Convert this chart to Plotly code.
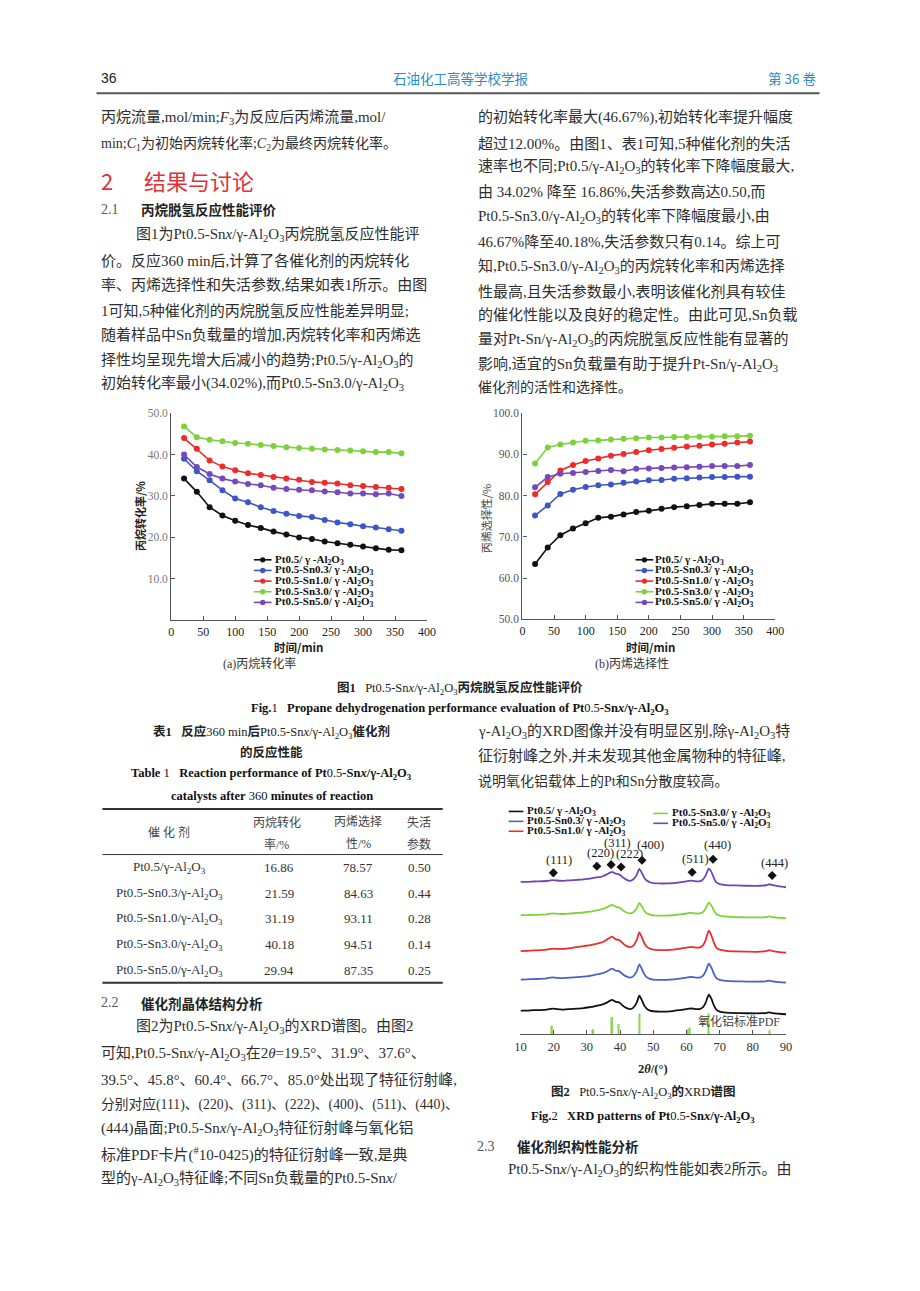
import re
import plotly.graph_objects as go

# ---------------- data ----------------
time_min = [20, 40, 60, 80, 100, 120, 140, 160, 180, 200, 220, 240, 260, 280, 300, 320, 340, 360]

series_names = [
    "Pt0.5/ γ -Al<sub>2</sub>O<sub>3</sub>",
    "Pt0.5-Sn0.3/ γ -Al<sub>2</sub>O<sub>3</sub>",
    "Pt0.5-Sn1.0/ γ -Al<sub>2</sub>O<sub>3</sub>",
    "Pt0.5-Sn3.0/ γ -Al<sub>2</sub>O<sub>3</sub>",
    "Pt0.5-Sn5.0/ γ -Al<sub>2</sub>O<sub>3</sub>",
]

# propane conversion / %
conv_pt05 = [34.2, 31.0, 27.3, 25.3, 24.0, 23.0, 22.3, 21.4, 20.7, 20.0, 19.6, 19.0, 18.6, 18.2, 17.8, 17.4, 17.0, 16.9]
conv_sn03 = [39.0, 36.0, 33.8, 31.4, 29.4, 28.5, 27.3, 26.4, 25.7, 25.2, 24.9, 24.2, 23.6, 23.2, 22.7, 22.4, 22.0, 21.6]
conv_sn10 = [44.0, 41.4, 38.6, 37.1, 36.2, 35.5, 35.1, 34.6, 34.2, 33.9, 33.4, 33.2, 33.0, 32.6, 32.4, 32.2, 32.0, 31.7]
conv_sn30 = [46.8, 44.2, 43.6, 43.2, 42.8, 42.6, 42.3, 42.1, 41.8, 41.6, 41.4, 41.2, 41.1, 41.0, 40.8, 40.6, 40.6, 40.3]
conv_sn50 = [40.0, 37.0, 35.3, 34.2, 33.5, 32.9, 32.6, 32.0, 31.7, 31.5, 31.4, 31.1, 30.9, 30.6, 30.6, 30.4, 30.6, 30.0]

# propylene selectivity / %
sel_pt05 = [63.4, 67.4, 70.4, 72.0, 73.3, 74.6, 74.9, 75.4, 76.0, 76.3, 76.8, 77.2, 77.4, 77.7, 78.0, 78.0, 78.0, 78.4]
sel_sn03 = [75.2, 77.6, 80.4, 81.4, 82.1, 82.5, 82.7, 83.1, 83.4, 83.7, 83.8, 84.1, 84.2, 84.4, 84.5, 84.5, 84.6, 84.6]
sel_sn10 = [80.3, 83.3, 86.1, 87.4, 88.4, 89.0, 89.7, 90.1, 90.6, 91.0, 91.3, 91.6, 91.9, 92.1, 92.4, 92.6, 92.9, 93.1]
sel_sn30 = [87.8, 91.7, 92.4, 92.9, 93.3, 93.4, 93.6, 93.8, 93.9, 94.1, 94.1, 94.2, 94.2, 94.3, 94.3, 94.4, 94.4, 94.5]
sel_sn50 = [82.0, 84.5, 85.3, 85.5, 85.7, 86.0, 86.2, 85.9, 86.5, 86.6, 86.7, 86.8, 86.9, 87.0, 87.2, 87.2, 87.2, 87.4]

# XRD patterns (2theta / deg, relative intensity)
two_theta = [10, 12, 14, 16, 18, 19.5, 21, 23, 25, 27, 29, 31, 32, 33, 34, 35, 36, 37, 37.6, 38.3,
             39, 39.5, 40.2, 41, 42, 43, 44, 45, 45.8, 46.5, 47.3, 48, 49, 50, 52, 54, 56, 58, 60, 60.8,
             62, 63, 64, 65, 65.8, 66.7, 67.5, 68.3, 69, 70, 72, 75, 78, 81, 84, 85, 86, 88, 90]
xrd_pt05 = [4.0, 4.0, 4.5, 4.5, 5.0, 6.0, 5.5, 5.0, 5.5, 6.0, 6.5, 7.5, 8.0, 9.0, 9.5, 10.5, 12.0, 14.0, 14.7, 13.5,
            12.5, 12.5, 11.0, 8.5, 6.5, 5.5, 7.0, 12.0, 19.0, 15.0, 9.0, 6.0, 4.0, 3.3, 3.0, 3.0, 3.5, 4.5, 5.5, 6.0,
            6.0, 5.5, 5.5, 7.5, 12.0, 20.0, 16.0, 9.0, 5.0, 3.0, 2.0, 1.5, 1.3, 1.2, 1.5, 2.2, 1.5, 0.8, 0.3]
xrd_sn03 = [3.3, 3.5, 3.8, 4.0, 4.5, 5.5, 5.0, 4.8, 5.2, 5.8, 6.3, 7.0, 7.8, 8.5, 9.0, 10.0, 11.5, 13.5, 14.3, 13.0,
            12.0, 12.0, 10.5, 8.2, 6.2, 5.2, 6.8, 11.5, 18.7, 14.5, 8.8, 5.8, 4.0, 3.3, 3.0, 3.0, 3.4, 4.3, 5.3, 5.8,
            5.8, 5.3, 5.3, 7.2, 11.8, 19.3, 15.5, 8.8, 4.8, 3.0, 2.0, 1.5, 1.3, 1.2, 1.5, 2.3, 1.5, 0.8, 0.3]
xrd_sn10 = [1.5, 1.8, 2.2, 2.5, 3.0, 4.0, 3.8, 3.8, 4.5, 5.5, 6.5, 7.5, 8.2, 9.0, 9.8, 11.0, 13.0, 15.3, 16.2, 14.5,
            13.0, 13.2, 11.5, 8.8, 6.5, 5.5, 7.0, 12.5, 20.5, 16.0, 9.5, 6.0, 4.0, 3.0, 2.5, 2.5, 3.0, 4.0, 5.0, 5.5,
            5.5, 5.0, 5.3, 7.5, 12.8, 22.2, 17.5, 9.5, 5.0, 3.0, 1.8, 1.2, 1.0, 0.8, 1.5, 2.5, 1.5, 0.5, 0.0]
xrd_sn30 = [3.3, 3.4, 3.6, 3.8, 4.2, 5.2, 4.8, 4.5, 5.0, 5.5, 6.0, 6.8, 7.5, 8.2, 8.8, 9.8, 11.2, 13.0, 13.7, 12.5,
            11.5, 11.3, 10.0, 7.8, 6.0, 5.0, 6.2, 10.0, 15.7, 12.5, 7.8, 5.2, 3.8, 3.0, 2.8, 2.8, 3.2, 4.0, 5.0, 5.5,
            5.4, 5.0, 5.0, 6.5, 10.2, 16.0, 13.0, 7.8, 4.5, 2.8, 1.8, 1.3, 1.1, 1.0, 1.2, 2.0, 1.3, 0.6, 0.3]
xrd_sn50 = [5.5, 5.5, 5.8, 6.0, 6.3, 7.2, 6.8, 6.5, 7.0, 7.5, 8.0, 8.8, 9.5, 10.0, 10.3, 11.3, 13.0, 14.8, 15.5, 14.3,
            13.5, 13.3, 11.8, 9.5, 7.5, 6.5, 8.0, 12.5, 18.5, 14.8, 9.5, 6.8, 5.0, 4.2, 3.8, 3.8, 4.2, 5.0, 6.0, 6.5,
            6.5, 6.0, 6.0, 8.0, 12.0, 18.8, 15.5, 9.0, 5.0, 3.2, 2.2, 1.8, 1.5, 1.4, 2.0, 3.0, 2.0, 0.8, 0.0]

# alumina standard PDF sticks
pdf_2theta = [19.5, 31.9, 37.6, 39.5, 45.8, 60.4, 61.0, 66.7, 85.0]
pdf_rel = [41, 24, 84, 50, 100, 24, 33, 100, 20]

# crystal-plane labels
hkl_labels = ["(111)", "(220)", "(311)", "(222)", "(400)", "(511)", "(440)", "(444)"]
hkl_2theta = [19.9, 33.0, 37.3, 40.3, 46.6, 61.7, 68.0, 85.8]
hkl_level = [163, 169.7, 171.3, 169, 175.7, 163.7, 176.7, 160.3]

# Table 1
tab_catalysts = ["Pt0.5/γ-Al<sub>2</sub>O<sub>3</sub>", "Pt0.5-Sn0.3/γ-Al<sub>2</sub>O<sub>3</sub>",
                 "Pt0.5-Sn1.0/γ-Al<sub>2</sub>O<sub>3</sub>", "Pt0.5-Sn3.0/γ-Al<sub>2</sub>O<sub>3</sub>",
                 "Pt0.5-Sn5.0/γ-Al<sub>2</sub>O<sub>3</sub>"]
tab_conversion = [16.86, 21.59, 31.19, 40.18, 29.94]
tab_selectivity = [78.57, 84.63, 93.11, 94.51, 87.35]
tab_deactivation = [0.50, 0.44, 0.28, 0.14, 0.25]

# ---------------- helpers ----------------
W, H = 920, 1291
def px(x): return x / W
def py(y): return 1 - y / H

SERIF = "Liberation Serif, Noto Sans CJK SC"
CJK = "Noto Sans CJK SC, Liberation Serif"
colors = ["#111111", "#3c56c6", "#ef2a2a", "#7cd13c", "#7449bd"]
xrd_colors = ["#111111", "#4a62c8", "#ee2b2b", "#80d23c", "#6f45b8"]

anns, shapes = [], []

def text(x, y, s, size=14, color="#333333", anchor="left", family=SERIF, angle=0, yanchor="middle"):
    anns.append(dict(x=px(x), y=py(y), xref="paper", yref="paper", text=s, showarrow=False,
                     xanchor=anchor, yanchor=yanchor, textangle=angle,
                     font=dict(size=size, color=color, family=family)))

def est_em(s):
    t = re.sub(r"<sub>(.*?)</sub>", lambda m: "\x01" * len(m.group(1)), s)
    t = re.sub(r"<sup>(.*?)</sup>", lambda m: "\x01" * len(m.group(1)), t)
    t = re.sub(r"<[^>]+>", "", t)
    w = 0
    for ch in t:
        if ch == "\x01": w += 0.35
        elif ord(ch) >= 0x2E80: w += 1.0
        elif ch in "mwMW%": w += 0.8
        elif ch.isupper(): w += 0.67
        elif ch in " .,;:/()-°": w += 0.28
        else: w += 0.5
    return w

def body(x, y, s, width=350, full=True):
    if full:
        size = max(12.3, min(15.0, width / est_em(s)))
    else:
        size = min(14, width / est_em(s))
    text(x, y, s, size=size, color="#2e2e2e")

def hline(x0, x1, y, w=1, color="#333333"):
    shapes.append(dict(type="line", xref="paper", yref="paper", x0=px(x0), x1=px(x1), y0=py(y), y1=py(y),
                       line=dict(color=color, width=w)))

AL = "γ-Al<sub>2</sub>O<sub>3</sub>"
SNX = "Pt0.5-Sn<i>x</i>/" + AL

fig = go.Figure()

# ---------------- chart (a) ----------------
conv_all = [conv_pt05, conv_sn03, conv_sn10, conv_sn30, conv_sn50]
for name, vals, c in zip(series_names, conv_all, colors):
    fig.add_trace(go.Scatter(x=time_min, y=vals, mode="lines+markers", name=name,
                             line=dict(color=c, width=1.6), marker=dict(color=c, size=6),
                             xaxis="x", yaxis="y", showlegend=False))

# ---------------- chart (b) ----------------
sel_all = [sel_pt05, sel_sn03, sel_sn10, sel_sn30, sel_sn50]
for name, vals, c in zip(series_names, sel_all, colors):
    fig.add_trace(go.Scatter(x=time_min, y=vals, mode="lines+markers", name=name,
                             line=dict(color=c, width=1.6), marker=dict(color=c, size=6),
                             xaxis="x2", yaxis="y2", showlegend=False))

# ---------------- XRD ----------------
fig.add_trace(go.Bar(x=pdf_2theta, y=[r * 0.21 for r in pdf_rel], width=0.5,
                     marker=dict(color="#86d64c", line=dict(width=0)),
                     xaxis="x3", yaxis="y3", showlegend=False))
xrd_all = [xrd_pt05, xrd_sn03, xrd_sn10, xrd_sn30, xrd_sn50]
xrd_offsets = [20, 52, 82.5, 117, 148.5]
for name, vals, off, c in zip(series_names, xrd_all, xrd_offsets, xrd_colors):
    fig.add_trace(go.Scatter(x=two_theta, y=[v + off for v in vals], mode="lines", name=name,
                             line=dict(color=c, width=1.8, shape="spline", smoothing=0.5),
                             xaxis="x3", yaxis="y3", showlegend=False))
fig.add_trace(go.Scatter(x=hkl_2theta, y=hkl_level, mode="markers",
                         marker=dict(symbol="diamond", size=7, color="#111111"),
                         xaxis="x3", yaxis="y3", showlegend=False))
hkl_dx = [6, 4, 6, 8, 9, 3, 4, 2]
hkl_dy = [4, 4, 13, 4, 6, 4, 5, 4]
for lab, xx, yy, dx, dy in zip(hkl_labels, hkl_2theta, hkl_level, hkl_dx, hkl_dy):
    anns.append(dict(x=xx, y=yy, xref="x3", yref="y3", text=lab, showarrow=False, xanchor="center",
                     yanchor="bottom", xshift=dx, yshift=dy,
                     font=dict(size=12.5, color="#222222", family="Liberation Serif")))

axis_common = dict(showline=True, linecolor="#555555", linewidth=1.4, ticks="inside", ticklen=4,
                   tickcolor="#555555", showgrid=False, zeroline=False, fixedrange=True)

fig.update_layout(
    width=W, height=H, margin=dict(l=0, r=0, t=0, b=0),
    paper_bgcolor="white", plot_bgcolor="white", showlegend=False,
    xaxis=dict(domain=[px(168), px(428)], range=[0, 400], anchor="y", tickvals=list(range(0, 401, 50)),
               tickfont=dict(family="Liberation Serif", size=12, color="#222222"), **axis_common),
    yaxis=dict(domain=[py(620), py(411)], range=[0, 50], anchor="x", tickvals=[10, 20, 30, 40, 50],
               ticktext=["10.0", "20.0", "30.0", "40.0", "50.0"],
               tickfont=dict(family="Liberation Serif", size=11.5, color="#777777"), **axis_common),
    xaxis2=dict(domain=[px(525), px(782)], range=[0, 400], anchor="y2", tickvals=list(range(0, 401, 50)),
                tickfont=dict(family="Liberation Serif", size=12, color="#222222"), **axis_common),
    yaxis2=dict(domain=[py(619), py(411)], range=[50, 100], anchor="x2", tickvals=[50, 60, 70, 80, 90, 100],
                ticktext=["50.0", "60.0", "70.0", "80.0", "90.0", "100.0"],
                tickfont=dict(family="Liberation Serif", size=11.5, color="#555555"), **axis_common),
    xaxis3=dict(domain=[px(523), px(793)], range=[10, 90], anchor="y3", tickvals=list(range(10, 91, 10)),
                tickfont=dict(family="Liberation Serif", size=12.5, color="#333333"), **axis_common),
    yaxis3=dict(domain=[py(1038), py(845)], range=[0, 193], anchor="x3", visible=False, fixedrange=True),
)

# ---------------- legends ----------------
def marker_legend(x_line0, x_text, y0):
    for i, (name, c) in enumerate(zip(series_names, colors)):
        y = y0 + i * 10.75
        hline(x_line0, x_line0 + 18, y, w=1.6, color=c)
        cx = x_line0 + 9
        shapes.append(dict(type="circle", xref="paper", yref="paper", x0=px(cx - 2.7), x1=px(cx + 2.7),
                           y0=py(y + 2.7), y1=py(y - 2.7), fillcolor=c, line=dict(width=0)))
        text(x_text, y, "<b>" + name + "</b>", size=11, color="#111111", family="Liberation Serif")

marker_legend(252, 271, 559)
marker_legend(640, 658, 559)

xrd_leg = [(511, 528, 813), (511, 528, 823), (511, 528, 833), (658, 675, 815), (658, 675, 825)]
for (l0, tx, y), name, c in zip(xrd_leg, series_names, xrd_colors):
    hline(l0, l0 + 15, y, w=1.6, color=c)
    text(tx, y, "<b>" + name + "</b>", size=11, color="#111111", family="Liberation Serif")

# ---------------- axis titles & captions ----------------
text(136, 515, "<b>丙烷转化率/%</b>", size=11, color="#222222", family=CJK, angle=-90, anchor="center")
text(488, 518, "丙烯选择性/%", size=11, color="#444444", family=CJK, angle=-90, anchor="center")
text(297, 647, "<b>时间/min</b>", size=11.5, color="#222222", family=CJK, anchor="center")
text(655, 647, "<b>时间/min</b>", size=11.5, color="#222222", family=CJK, anchor="center")
text(258, 664, "(a)丙烷转化率", size=12, color="#333333", anchor="center")
text(636, 664, "(b)丙烯选择性", size=12, color="#333333", anchor="center")
text(462, 689, "<b>图1</b>   " + SNX + "<b>丙烷脱氢反应性能评价</b>", size=12.5, color="#222222", anchor="center")
text(462, 710, "<b>Fig.</b>1   <b>Propane dehydrogenation performance evaluation of Pt</b>0.5<b>-Sn<i>x</i>/γ-Al<sub>2</sub>O<sub>3</sub></b>",
     size=12.5, color="#111111", anchor="center", family="Liberation Serif")

text(745, 1025, "氧化铝标准PDF", size=12, color="#444444", anchor="center")
text(658, 1073, "<b>2<i>θ</i>/(°)</b>", size=12.5, color="#222222", anchor="center", family="Liberation Serif")
text(648, 1097, "<b>图2</b>   " + SNX + "<b>的</b>XRD<b>谱图</b>", size=12.5, color="#222222", anchor="center")
text(648, 1121, "<b>Fig.</b>2   <b>XRD patterns of Pt</b>0.5<b>-Sn<i>x</i>/γ-Al<sub>2</sub>O<sub>3</sub></b>",
     size=12.5, color="#111111", anchor="center", family="Liberation Serif")

# ---------------- page header ----------------
text(95, 73, "36", size=14, color="#222222", family="Liberation Sans")
text(462, 73, "石油化工高等学校学报", size=13.5, color="#2a8ccc", anchor="center", family=CJK)
text(826, 73, "第 36 卷", size=13.5, color="#2a8ccc", anchor="right", family=CJK)
hline(92, 827, 88, w=2, color="#555555")

# ---------------- left column ----------------
body(95, 113, "丙烷流量,mol/min;<i>F</i><sub>3</sub>为反应后丙烯流量,mol/")
body(95, 139, "min;<i>C</i><sub>1</sub>为初始丙烷转化率;<i>C</i><sub>2</sub>为最终丙烷转化率。", full=False)
text(95, 176, "2", size=22, color="#e0303a", family=CJK)
text(138, 176, "结果与讨论", size=22, color="#e0303a", family=CJK)
text(95, 205, "2.1", size=14, color="#555555", family="Liberation Serif")
text(135, 205, "<b>丙烷脱氢反应性能评价</b>", size=13.5, color="#222222", family=CJK)
body(130, 231, "图1为" + SNX + "丙烷脱氢反应性能评", width=315)
body(95, 257, "价。反应360 min后,计算了各催化剂的丙烷转化")
body(95, 282, "率、丙烯选择性和失活参数,结果如表1所示。由图")
body(95, 307, "1可知,5种催化剂的丙烷脱氢反应性能差异明显;")
body(95, 332, "随着样品中Sn负载量的增加,丙烷转化率和丙烯选")
body(95, 358, "择性均呈现先增大后减小的趋势;Pt0.5/" + AL + "的")
body(95, 382, "初始转化率最小(34.02%),而Pt0.5-Sn3.0/" + AL)

# ---------------- right column ----------------
RX = 478
right_lines = [
    (113, "的初始转化率最大(46.67%),初始转化率提升幅度", True),
    (139, "超过12.00%。由图1、表1可知,5种催化剂的失活", True),
    (163, "速率也不同;Pt0.5/" + AL + "的转化率下降幅度最大,", True),
    (188, "由 34.02% 降至 16.86%,失活参数高达0.50,而", True),
    (213, "Pt0.5-Sn3.0/" + AL + "的转化率下降幅度最小,由", True),
    (238, "46.67%降至40.18%,失活参数只有0.14。综上可", True),
    (263, "知,Pt0.5-Sn3.0/" + AL + "的丙烷转化率和丙烯选择", True),
    (288, "性最高,且失活参数最小,表明该催化剂具有较佳", True),
    (312, "的催化性能以及良好的稳定性。由此可见,Sn负载", True),
    (337, "量对Pt-Sn/" + AL + "的丙烷脱氢反应性能有显著的", True),
    (362, "影响,适宜的Sn负载量有助于提升Pt-Sn/" + AL, True),
    (385, "催化剂的活性和选择性。", False),
    (733, AL + "的XRD图像并没有明显区别,除" + AL + "特", True),
    (757, "征衍射峰之外,并未发现其他金属物种的特征峰,", True),
    (782, "说明氧化铝载体上的Pt和Sn分散度较高。", False),
]
for y, s, full in right_lines:
    body(RX, y, s, width=348, full=full)

text(477, 1151, "2.3", size=14, color="#555555", family="Liberation Serif")
text(517, 1151, "<b>催化剂织构性能分析</b>", size=13.5, color="#222222", family=CJK)
body(508, 1175, SNX + "的织构性能如表2所示。由", width=318)

# ---------------- Table 1 ----------------
text(270, 733, "<b>表1</b>   <b>反应</b>360 min<b>后</b>" + SNX + "<b>催化剂</b>", size=12.5, color="#222222", anchor="center")
text(270, 753, "<b>的反应性能</b>", size=12.5, color="#222222", anchor="center")
text(270, 775, "<b>Table</b> 1   <b>Reaction performance of Pt</b>0.5<b>-Sn<i>x</i>/γ-Al<sub>2</sub>O<sub>3</sub></b>",
     size=12.5, color="#111111", anchor="center", family="Liberation Serif")
text(270, 797, "<b>catalysts after</b> 360 <b>minutes of reaction</b>", size=12.5, color="#111111",
     anchor="center", family="Liberation Serif")
hline(98, 444, 810.5, w=2)
hline(98, 444, 856.5, w=1)
hline(98, 444, 986, w=2)
text(166, 834, "催 化 剂", size=12, color="#444444", anchor="center")
text(275, 824, "丙烷转化", size=12, color="#444444", anchor="center")
text(275, 846, "率/%", size=12, color="#444444", anchor="center")
text(358, 824, "丙烯选择", size=12, color="#444444", anchor="center")
text(358, 846, "性/%", size=12, color="#444444", anchor="center")
text(420, 824, "失活", size=12, color="#444444", anchor="center")
text(420, 846, "参数", size=12, color="#444444", anchor="center")
row_y = [870, 895.7, 921.3, 947.7, 973.3]
for yy, cat, cv, sv, dv in zip(row_y, tab_catalysts, tab_conversion, tab_selectivity, tab_deactivation):
    text(166, yy, cat, size=13, color="#333333", anchor="center", family="Liberation Serif")
    text(278, yy, f"{cv:.2f}", size=13, color="#333333", anchor="center", family="Liberation Serif")
    text(358, yy, f"{sv:.2f}", size=13, color="#333333", anchor="center", family="Liberation Serif")
    text(420, yy, f"{dv:.2f}", size=13, color="#333333", anchor="center", family="Liberation Serif")

# ---------------- section 2.2 ----------------
text(95, 1006, "2.2", size=14, color="#555555", family="Liberation Serif")
text(135, 1006, "<b>催化剂晶体结构分析</b>", size=13.5, color="#222222", family=CJK)
body(130, 1031, "图2为" + SNX + "的XRD谱图。由图2", width=315)
body(95, 1058, "可知," + SNX + "在2<i>θ</i>=19.5°、31.9°、37.6°、")
body(95, 1084, "39.5°、45.8°、60.4°、66.7°、85.0°处出现了特征衍射峰,")
body(95, 1109, "分别对应(111)、(220)、(311)、(222)、(400)、(511)、(440)、")
body(95, 1134, "(444)晶面;" + SNX + "特征衍射峰与氧化铝")
body(95, 1159, "标准PDF卡片(<sup>#</sup>10-0425)的特征衍射峰一致,是典")
body(95, 1184, "型的" + AL + "特征峰;不同Sn负载量的Pt0.5-Sn<i>x</i>/")

fig.update_layout(annotations=anns, shapes=shapes)
fig.write_html("out.html", config={"displayModeBar": False},
               post_script="document.body.style.margin='0';document.body.style.overflow='hidden';")
